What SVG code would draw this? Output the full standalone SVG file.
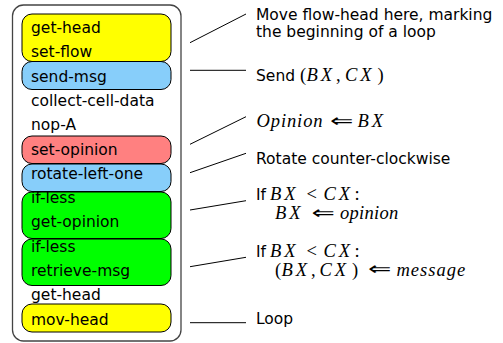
<svg xmlns="http://www.w3.org/2000/svg" width="503" height="343" viewBox="0 0 503 343">
<style>
.t{font-family:"DejaVu Sans",sans-serif;font-size:15.5px;fill:#000}
.m{font-family:"Liberation Serif","DejaVu Serif",serif;font-style:italic;font-size:18.5px}
.k{letter-spacing:3px}
.u{font-family:"Liberation Serif","DejaVu Serif",serif;font-style:normal;font-size:18.5px}
.a{font-family:"DejaVu Sans",sans-serif;font-size:18px;fill:#000}
.b{stroke:#000;stroke-width:1}
.y{fill:#ffff00}.bl{fill:#87cefa}.r{fill:#ff8080}.g{fill:#00ff00}
.c line{stroke:#000;stroke-width:1}
</style>
<rect x="12.5" y="5" width="168.5" height="336" rx="11" fill="#fff" stroke="#444" stroke-width="1.3"/>
<g id="n1"><rect class="b y" x="22" y="14" width="149" height="47.5" rx="10"/><text class="t" x="31" y="33">get-head</text><text class="t" x="31" y="57.3">set-flow</text></g>
<g id="n2"><rect class="b bl" x="22" y="61.5" width="149" height="28" rx="10"/><text class="t" x="31" y="81.6">send-msg</text></g>
<g id="n3"><text class="t" x="31" y="105.9">collect-cell-data</text></g>
<g id="n4"><text class="t" x="31" y="130.2">nop-A</text></g>
<g id="n5"><rect class="b r" x="22" y="136" width="149" height="27.5" rx="10"/><text class="t" x="31" y="154.5">set-opinion</text></g>
<g id="n6"><rect class="b bl" x="22" y="164" width="149" height="27.5" rx="10"/><text class="t" x="31" y="178.8">rotate-left-one</text></g>
<g id="n7"><rect class="b g" x="22" y="192" width="149" height="46.5" rx="10"/><text class="t" x="31" y="203.1">if-less</text><text class="t" x="31" y="227.4">get-opinion</text></g>
<g id="n8"><rect class="b g" x="22" y="239" width="149" height="46.5" rx="10"/><text class="t" x="31" y="251.7">if-less</text><text class="t" x="31" y="276">retrieve-msg</text></g>
<g id="n9"><text class="t" x="31" y="300.3">get-head</text></g>
<g id="n10"><rect class="b y" x="22" y="304" width="149" height="28" rx="10"/><text class="t" x="31" y="324.6">mov-head</text></g>
<g class="c" id="connectors">
<line x1="190" y1="42.7" x2="246" y2="14"/>
<line x1="190" y1="70.3" x2="246" y2="70.3"/>
<line x1="190" y1="144.3" x2="246" y2="116.7"/>
<line x1="190" y1="172.7" x2="246" y2="153.3"/>
<line x1="190" y1="210" x2="246" y2="200.7"/>
<line x1="190" y1="266.7" x2="246" y2="257.3"/>
<line x1="190" y1="322.7" x2="246" y2="322.7"/>
</g>
<g id="labels">
<text class="t" x="256" y="20">Move flow-head here, marking</text>
<text class="t" x="256" y="37.3">the beginning of a loop</text>
<text class="t" x="256" y="81">Send <tspan class="u" x="300">(</tspan><tspan class="m k" x="306.5">BX</tspan><tspan class="u" x="336">,</tspan><tspan class="m k" x="345">CX</tspan><tspan class="u" x="377.5">)</tspan></text>
<text y="127.3"><tspan class="m" x="256.5" letter-spacing="0.9">Opinion</tspan><tspan class="m k" x="357.5">BX</tspan></text>
<text class="a" transform="translate(330,126.5) scale(1.55,1)">⇐</text>
<text class="t" x="256" y="164">Rotate counter-clockwise</text>
<text class="t" x="256" y="200.3">If <tspan class="m k" x="270">BX</tspan><tspan class="u" x="306.5">&lt;</tspan><tspan class="m k" x="323.5">CX</tspan><tspan class="u" x="354.5">:</tspan></text>
<text y="219.3"><tspan class="m k" x="275">BX</tspan><tspan class="m" x="340" letter-spacing="0.3">opinion</tspan></text>
<text class="a" transform="translate(311.5,218.5) scale(1.55,1)">⇐</text>
<text class="t" x="256" y="256.5">If <tspan class="m k" x="270">BX</tspan><tspan class="u" x="306.5">&lt;</tspan><tspan class="m k" x="323.5">CX</tspan><tspan class="u" x="354.5">:</tspan></text>
<text y="275.5"><tspan class="u" x="275">(</tspan><tspan class="m k" x="281.5">BX</tspan><tspan class="u" x="311">,</tspan><tspan class="m k" x="319.5">CX</tspan><tspan class="u" x="352">)</tspan><tspan class="m" x="396.5" letter-spacing="1">message</tspan></text>
<text class="a" transform="translate(368,274.7) scale(1.55,1)">⇐</text>
<text class="t" x="256" y="324.3">Loop</text>
</g>
</svg>
